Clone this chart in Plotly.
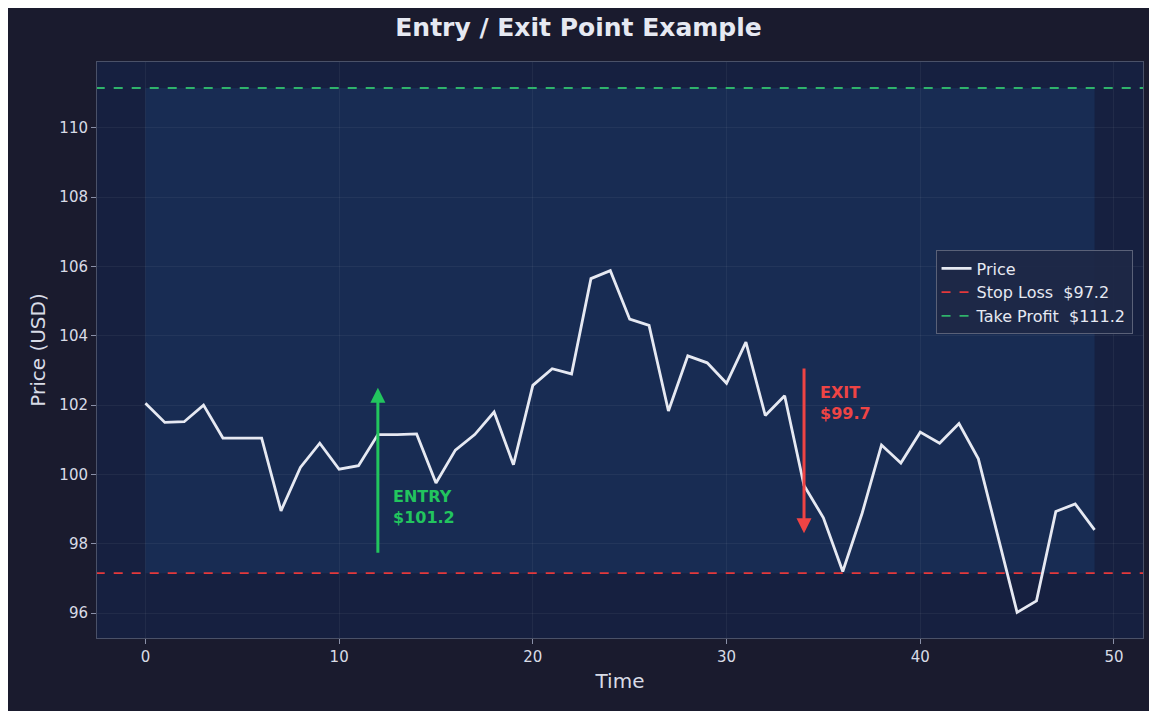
import plotly.graph_objects as go

time = list(range(50))
price = [102.05, 101.5, 101.52, 102.0, 101.05, 101.05, 101.05, 98.95, 100.2, 100.9,
         100.15, 100.25, 101.15, 101.15, 101.17, 99.75, 100.7, 101.15, 101.8, 100.28,
         102.57, 103.05, 102.9, 105.65, 105.88, 104.48, 104.3, 101.83, 103.42, 103.22,
         102.63, 103.82, 101.7, 102.27, 99.68, 98.75, 97.2, 98.88, 100.85, 100.33,
         101.22, 100.9, 101.47, 100.45, 98.2, 96.02, 96.35, 98.93, 99.15, 98.4]
stop_loss = 97.15
take_profit = 111.15
entry_t, entry_p = 12, 101.2
exit_t, exit_p = 34, 99.7

fig = go.Figure()
# shaded trade zone
fig.add_shape(type="rect", x0=0, x1=49, y0=stop_loss, y1=take_profit,
              fillcolor="rgba(30,70,120,0.35)", line_width=0, layer="below")

fig.add_trace(go.Scatter(x=time, y=price, mode="lines", name="Price",
                         line=dict(color="#e6e9f2", width=2.8)))
fig.add_trace(go.Scatter(x=[-10, 60], y=[stop_loss] * 2, mode="lines",
                         name=f"Stop Loss  ${stop_loss:.1f}",
                         line=dict(color="#e5383b", width=1.8, dash="dash")))
fig.add_trace(go.Scatter(x=[-10, 60], y=[take_profit] * 2, mode="lines",
                         name=f"Take Profit  ${take_profit:.1f}",
                         line=dict(color="#2fb36b", width=1.8, dash="dash")))

green = "#22c55e"
red = "#ef4444"
fig.add_annotation(x=entry_t, y=102.5, ax=entry_t, ay=97.7, xref="x", yref="y",
                   axref="x", ayref="y", showarrow=True, arrowhead=2, arrowsize=1,
                   arrowwidth=3, arrowcolor=green, text="")
fig.add_annotation(x=12.7, y=99.05, xref="x", yref="y", showarrow=False,
                   text=f"<b>ENTRY<br>${entry_p:.1f}</b>", align="left", xanchor="left",
                   font=dict(color=green, size=16))
fig.add_annotation(x=exit_t, y=98.3, ax=exit_t, ay=103.1, xref="x", yref="y",
                   axref="x", ayref="y", showarrow=True, arrowhead=2, arrowsize=1,
                   arrowwidth=3, arrowcolor=red, text="")
fig.add_annotation(x=34.7, y=102.05, xref="x", yref="y", showarrow=False,
                   text=f"<b>EXIT<br>${exit_p:.1f}</b>", align="left", xanchor="left",
                   font=dict(color=red, size=16))

axis_common = dict(showgrid=True, gridcolor="rgba(255,255,255,0.05)", zeroline=False,
                   showline=True, linecolor="#4a5168", mirror=True, ticks="outside",
                   tickcolor="#8a90a8", tickfont=dict(color="#d8dbe6", size=15),
                   title_font=dict(color="#d8dbe6", size=20))
fig.update_layout(
    width=1141, height=703,
    paper_bgcolor="#1a1b2e", plot_bgcolor="#162040",
    font=dict(family="DejaVu Sans", color="#d8dbe6"),
    title=dict(text="<b>Entry / Exit Point Example</b>", x=0.5, xanchor="center",
               y=0.973, yanchor="middle", font=dict(size=25, color="#e6e9f2")),
    margin=dict(l=89, r=6, t=54, b=73),
    xaxis=dict(range=[-2.5, 51.5], dtick=10, title=dict(text="Time", standoff=8), **axis_common),
    yaxis=dict(range=[95.28, 111.9], dtick=2, title=dict(text="Price (USD)", standoff=8), **axis_common),
    legend=dict(x=0.99, y=0.6, xanchor="right", yanchor="middle",
                bgcolor="rgba(30,40,70,0.9)", bordercolor="#5a6178", borderwidth=1,
                font=dict(size=16, color="#e6e9f2")),
    showlegend=True,
)
fig.write_html("out.html")
